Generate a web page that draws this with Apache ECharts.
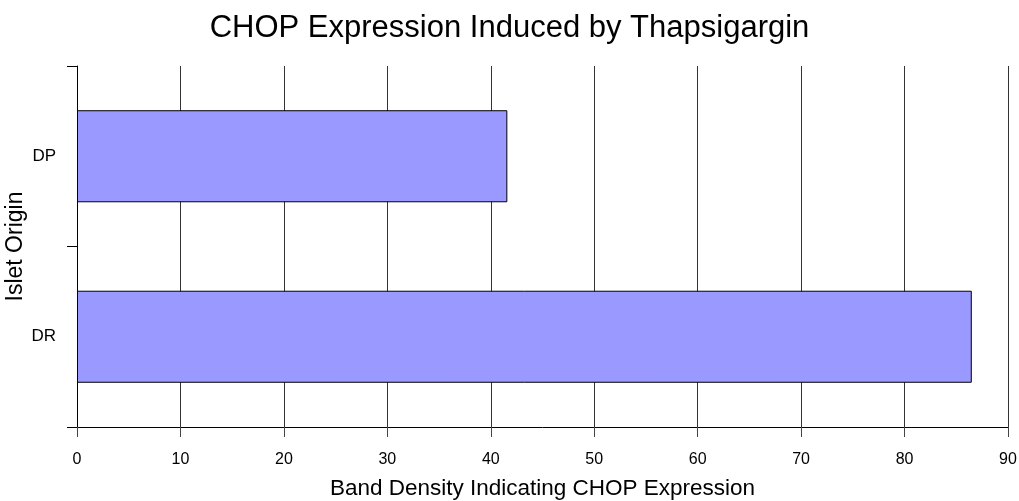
<!DOCTYPE html>
<html>
<head>
<meta charset="utf-8">
<script src="https://cdn.jsdelivr.net/npm/echarts@6/dist/echarts.min.js"></script>
<style>
	html, body {margin:0;padding:0;background:#fff;}
	#chart {width:1019px;height:501px;}
</style>
</head>
<body>
<div id="chart"></div>
<script>
	// 数据
	var categories = ['DP', 'DR'];
	var bandDensity = [41.6, 86.5];
	var xTicks = [0, 10, 20, 30, 40, 50, 60, 70, 80, 90];

	var FONT = '"Liberation Sans", Arial, sans-serif';

	var chart = echarts.init(document.getElementById('chart'));
	var option = {
		animation: false,
		title: {
			text: 'CHOP Expression Induced by Thapsigargin',
			left: 'center',
			top: 8,
			textStyle: {fontFamily: FONT, fontSize: 31, fontWeight: 'normal', color: '#000'}
		},
		grid: {left: 77, right: 11, top: 66, bottom: 74, outerBoundsMode: 'none'},
		xAxis: {
			type: 'value',
			min: xTicks[0],
			max: xTicks[xTicks.length - 1],
			interval: 10,
			name: 'Band Density Indicating CHOP Expression',
			nameLocation: 'middle',
			nameGap: 50,
			nameMoveOverlap: false,
			nameTextStyle: {fontFamily: FONT, fontSize: 22.5, color: '#000'},
			axisLine: {show: true, lineStyle: {color: '#000', width: 1}},
			axisTick: {show: true, length: 10, lineStyle: {color: '#444'}},
			axisLabel: {fontFamily: FONT, fontSize: 16, color: '#000', margin: 25},
			splitLine: {show: true, lineStyle: {color: '#333', width: 1}}
		},
		yAxis: {
			type: 'category',
			data: categories,
			inverse: true,
			name: 'Islet Origin',
			nameLocation: 'middle',
			nameGap: 50,
			nameMoveOverlap: false,
			nameTextStyle: {fontFamily: FONT, fontSize: 23, color: '#000'},
			axisLine: {show: true, lineStyle: {color: '#000', width: 1}},
			axisTick: {show: true, length: 10, lineStyle: {color: '#000'}},
			axisLabel: {fontFamily: FONT, fontSize: 17, color: '#000', margin: 21}
		},
		series: [{
			type: 'bar',
			data: bandDensity,
			barCategoryGap: '49%',
			itemStyle: {color: '#9999FF', borderColor: '#000', borderWidth: 1}
		}]
	};
	chart.setOption(option);
</script>
</body>
</html>
